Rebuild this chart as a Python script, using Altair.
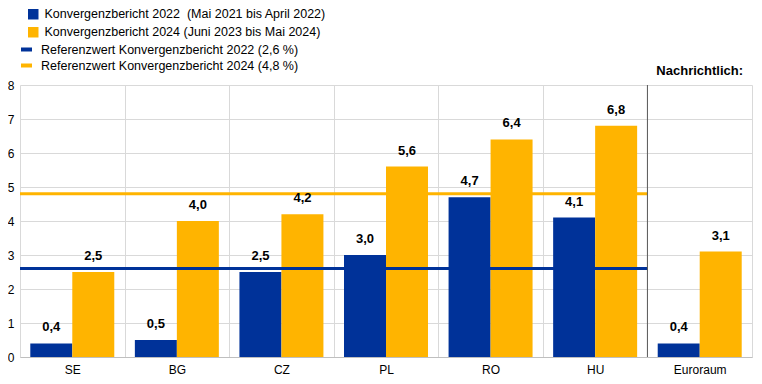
import altair as alt
import pandas as pd

categories = ["SE", "BG", "CZ", "PL", "RO", "HU", "Euroraum"]
cb2022 = [0.4, 0.5, 2.5, 3.0, 4.7, 4.1, 0.4]
cb2024 = [2.5, 4.0, 4.2, 5.6, 6.4, 6.8, 3.1]
series_names = [
    "Konvergenzbericht 2022\u00a0 (Mai 2021 bis April 2022)",
    "Konvergenzbericht 2024 (Juni 2023 bis Mai 2024)",
]
ref_names = [
    "Referenzwert Konvergenzbericht 2022 (2,6 %)",
    "Referenzwert Konvergenzbericht 2024 (4,8 %)",
]
ref_values = [2.6, 4.8]
ref_start = "SE"
ref_end = "Euroraum"
note_category = "Euroraum"
note_label = "Nachrichtlich:"
y_ticks = [0, 1, 2, 3, 4, 5, 6, 7, 8]
colors = ["#003299", "#ffb400"]

rows = []
for c, a, b in zip(categories, cb2022, cb2024):
    rows.append({"cat": c, "series": series_names[0], "value": a})
    rows.append({"cat": c, "series": series_names[1], "value": b})
bars_df = pd.DataFrame(rows)
bars_df["label"] = bars_df["value"].map(lambda v: f"{v:.1f}".replace(".", ","))

ref_df = pd.DataFrame({"ref": ref_names, "value": ref_values,
                       "start": ref_start, "end": ref_end})
sep_df = pd.DataFrame({"cat": [note_category]})
note_df = pd.DataFrame({"cat": [note_category], "label": [note_label]})

x_scale = alt.Scale(domain=categories, paddingInner=0, paddingOuter=0)
y_scale = alt.Scale(domain=[0, 8], nice=False)
off_scale = alt.Scale(domain=series_names, paddingInner=0, paddingOuter=0.245)

x_axis = alt.Axis(title=None, labelAngle=0, ticks=False, grid=True, tickBand="extent",
                  gridColor="#d9d9d9", domainColor="#bfbfbf", labelPadding=7,
                  labelFontSize=12, labelColor="#000000")
y_axis = alt.Axis(title=None, values=y_ticks, tickCount=9, ticks=False, domain=False,
                  gridColor="#d9d9d9", labelPadding=6, labelFontSize=12,
                  labelColor="#000000", labelOverlap=False)

common_legend = dict(title=None, orient="none", direction="vertical",
                     labelFontSize=12.5, labelLimit=0, labelColor="#000000",
                     padding=0)

bars = alt.Chart(bars_df).mark_bar().encode(
    x=alt.X("cat:N", scale=x_scale, axis=x_axis, sort=categories),
    xOffset=alt.XOffset("series:N", scale=off_scale),
    y=alt.Y("value:Q", scale=y_scale, axis=y_axis),
    fill=alt.Fill("series:N", scale=alt.Scale(domain=series_names, range=colors),
                  legend=alt.Legend(legendX=7, legendY=-77, symbolType="square",
                                    symbolSize=110, symbolOpacity=1, rowPadding=5,
                                    labelOffset=5, **common_legend)),
)

labels = alt.Chart(bars_df).mark_text(
    fontSize=13, fontWeight="bold", baseline="alphabetic", dy=-12, color="#000000"
).encode(
    x=alt.X("cat:N", scale=x_scale, axis=x_axis, sort=categories),
    xOffset=alt.XOffset("series:N", scale=off_scale),
    y=alt.Y("value:Q", scale=y_scale, axis=y_axis),
    text="label:N",
)

refs = alt.Chart(ref_df).mark_rule(strokeWidth=3).encode(
    x=alt.X("start:N", scale=x_scale, axis=x_axis, bandPosition=0),
    x2=alt.X2("end:N", bandPosition=0),
    y=alt.Y("value:Q", scale=y_scale, axis=y_axis),
    stroke=alt.Stroke("ref:N", scale=alt.Scale(domain=ref_names, range=colors),
                      legend=alt.Legend(legendX=-1, legendY=-43, symbolType="stroke",
                                        symbolSize=121, symbolStrokeWidth=4,
                                        symbolOpacity=1, rowPadding=-1, labelOffset=7,
                                        **common_legend)),
)

sep = alt.Chart(sep_df).mark_rule(color="#595959", strokeWidth=1).encode(
    x=alt.X("cat:N", scale=x_scale, axis=x_axis, bandPosition=0),
)

note = alt.Chart(note_df).mark_text(
    fontSize=13, fontWeight="bold", baseline="alphabetic", color="#000000"
).encode(
    x=alt.X("cat:N", scale=x_scale, axis=x_axis),
    y=alt.value(-10),
    text="label:N",
)

chart = alt.layer(bars, refs, sep, labels, note).properties(
    width=732, height=272,
    autosize=alt.AutoSizeParams(type="none"),
    padding={"left": 12, "top": 77, "right": 2, "bottom": 19},
).resolve_scale(fill="independent", stroke="independent").configure(
    font="Liberation Sans"
).configure_view(stroke=None)

chart.save("out.html", embed_options={"renderer": "svg", "actions": False})
